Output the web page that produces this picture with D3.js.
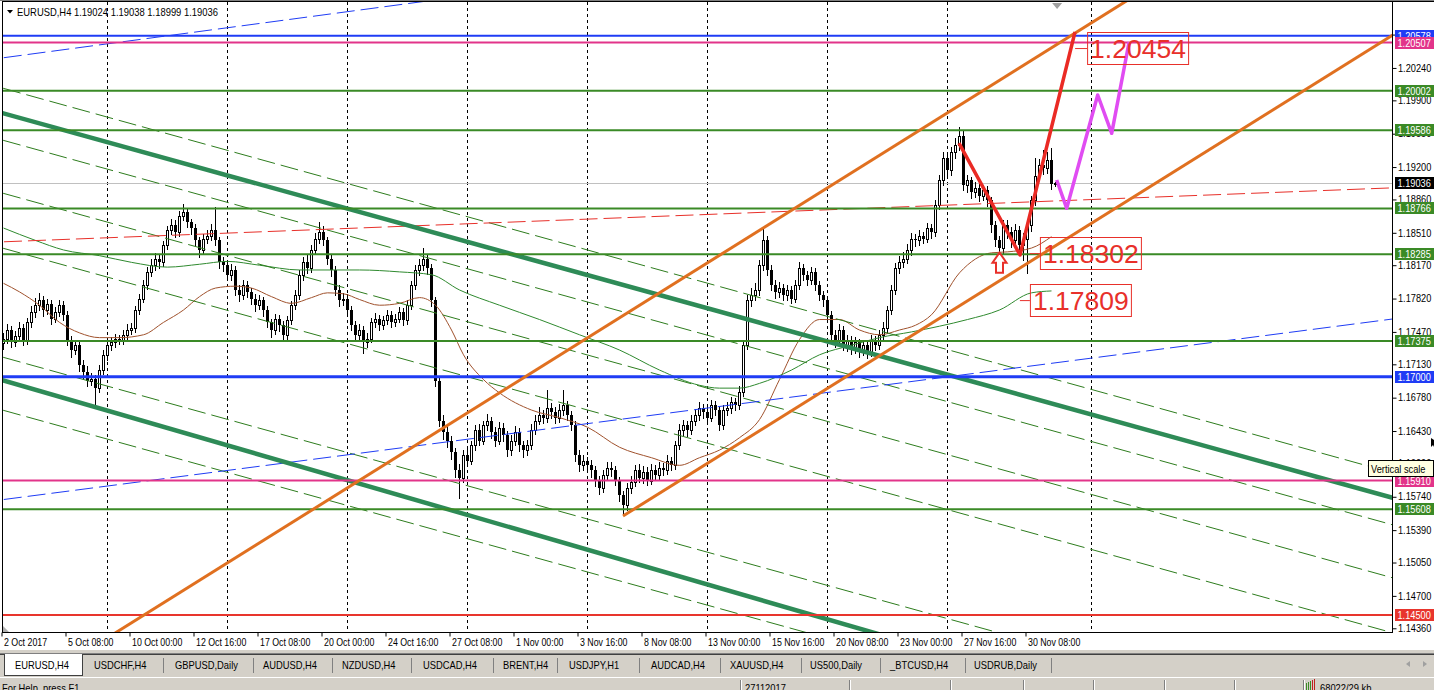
<!DOCTYPE html>
<html><head><meta charset="utf-8">
<script src="https://cdn.jsdelivr.net/npm/d3@7"></script>
<style>
html,body{margin:0;padding:0;background:#fff;overflow:hidden}
svg{display:block}
text{font-family:"Liberation Sans",Arial,sans-serif}
</style></head><body>
<svg id="c" width="1434" height="690"></svg>
<script>
// ---------------- DATA ----------------
const firstBar = 4;
const opens = [
1.1735,1.1740,1.1749,1.1736,1.1743,1.1751,1.1738,1.1757,1.1768,1.1775,
1.1780,1.1770,1.1776,1.1761,1.1768,1.1775,1.1765,1.1738,1.1728,1.1733,
1.1712,1.1705,1.1696,1.1698,1.1688,1.1707,1.1723,1.1733,1.1736,1.1740,
1.1738,1.1744,1.1749,1.1751,1.1770,1.1782,1.1796,1.1810,1.1817,1.1824,
1.1820,1.1838,1.1854,1.1859,1.1852,1.1869,1.1873,1.1862,1.1856,1.1843,
1.1833,1.1845,1.1848,1.1854,1.1843,1.1820,1.1817,1.1807,1.1812,1.1791,
1.1786,1.1796,1.1789,1.1782,1.1775,1.1780,1.1770,1.1757,1.1749,1.1761,
1.1754,1.1744,1.1759,1.1775,1.1786,1.1807,1.1820,1.1814,1.1833,1.1845,
1.1852,1.1843,1.1824,1.1812,1.1791,1.1780,1.1782,1.1770,1.1754,1.1744,
1.1749,1.1736,1.1740,1.1757,1.1761,1.1754,1.1759,1.1765,1.1757,1.1761,
1.1768,1.1759,1.1775,1.1796,1.1812,1.1817,1.1824,1.1814,1.1780,1.1696,
1.1654,1.1642,1.1633,1.1621,1.1602,1.1594,1.1618,1.1612,1.1628,1.1644,
1.1633,1.1649,1.1654,1.1642,1.1633,1.1646,1.1639,1.1623,1.1633,1.1642,
1.1628,1.1623,1.1628,1.1644,1.1654,1.1660,1.1657,1.1667,1.1663,1.1657,
1.1665,1.1670,1.1660,1.1649,1.1618,1.1607,1.1612,1.1607,1.1602,1.1591,
1.1583,1.1597,1.1604,1.1602,1.1591,1.1576,1.1565,1.1583,1.1589,1.1602,
1.1594,1.1600,1.1591,1.1602,1.1597,1.1604,1.1602,1.1612,1.1607,1.1628,
1.1644,1.1649,1.1644,1.1654,1.1660,1.1667,1.1663,1.1657,1.1670,1.1665,
1.1649,1.1665,1.1667,1.1673,1.1670,1.1684,1.1733,1.1780,1.1786,1.1791,
1.1817,1.1843,1.1812,1.1796,1.1789,1.1793,1.1786,1.1791,1.1782,1.1796,
1.1814,1.1807,1.1801,1.1810,1.1796,1.1786,1.1780,1.1765,1.1744,1.1738,
1.1749,1.1733,1.1738,1.1730,1.1736,1.1728,1.1733,1.1726,1.1738,1.1733,
1.1744,1.1751,1.1770,1.1791,1.1814,1.1820,1.1824,1.1833,1.1845,1.1843,
1.1848,1.1845,1.1856,1.1852,1.1880,1.1906,1.1929,1.1917,1.1936,1.1943,
1.1953,1.1901,1.1906,1.1894,1.1898,1.1890,1.1896,1.1885,1.1859,1.1843,
1.1835,1.1859,1.1852,1.1843,1.1854,1.1838,1.1845,1.1859,1.1885,1.1911,
1.1922,1.1919,1.1927,1.19024];
const highs = [
1.1746,1.1755,1.1753,1.1748,1.1757,1.1755,1.1762,1.1774,1.1783,1.1788,
1.1785,1.1782,1.1780,1.1773,1.1781,1.1779,1.1769,1.1743,1.1739,1.1737,
1.1718,1.1711,1.1704,1.1702,1.1712,1.1728,1.1737,1.1742,1.1745,1.1744,
1.1749,1.1755,1.1756,1.1774,1.1787,1.1801,1.1815,1.1823,1.1830,1.1829,
1.1842,1.1858,1.1866,1.1864,1.1874,1.1881,1.1877,1.1866,1.1860,1.1847,
1.1850,1.1854,1.1860,1.1878,1.1847,1.1826,1.1821,1.1818,1.1816,1.1796,
1.1801,1.1800,1.1793,1.1787,1.1786,1.1784,1.1774,1.1761,1.1766,1.1765,
1.1758,1.1764,1.1779,1.1791,1.1812,1.1826,1.1829,1.1838,1.1851,1.1862,
1.1858,1.1847,1.1828,1.1816,1.1796,1.1788,1.1787,1.1774,1.1758,1.1755,
1.1753,1.1746,1.1762,1.1767,1.1765,1.1764,1.1770,1.1769,1.1766,1.1773,
1.1772,1.1780,1.1800,1.1817,1.1824,1.1835,1.1829,1.1818,1.1784,1.1700,
1.1660,1.1648,1.1638,1.1625,1.1608,1.1623,1.1625,1.1633,1.1649,1.1650,
1.1654,1.1661,1.1658,1.1647,1.1652,1.1651,1.1643,1.1639,1.1648,1.1646,
1.1633,1.1634,1.1650,1.1660,1.1668,1.1665,1.1686,1.1672,1.1668,1.1671,
1.1686,1.1675,1.1664,1.1653,1.1623,1.1618,1.1616,1.1613,1.1606,1.1596,
1.1602,1.1610,1.1611,1.1606,1.1595,1.1580,1.1588,1.1596,1.1607,1.1608,
1.1606,1.1605,1.1608,1.1607,1.1610,1.1609,1.1618,1.1616,1.1633,1.1650,
1.1655,1.1654,1.1660,1.1666,1.1673,1.1671,1.1668,1.1676,1.1674,1.1669,
1.1670,1.1673,1.1679,1.1678,1.1690,1.1738,1.1786,1.1793,1.1798,1.1822,
1.1856,1.1848,1.1817,1.1801,1.1799,1.1797,1.1796,1.1795,1.1801,1.1820,
1.1818,1.1811,1.1815,1.1814,1.1800,1.1790,1.1784,1.1769,1.1749,1.1755,
1.1753,1.1744,1.1743,1.1742,1.1740,1.1739,1.1737,1.1744,1.1743,1.1749,
1.1757,1.1774,1.1796,1.1819,1.1827,1.1831,1.1839,1.1851,1.1850,1.1854,
1.1852,1.1861,1.1860,1.1885,1.1912,1.1936,1.1934,1.1941,1.1950,1.1962,
1.1958,1.1912,1.1910,1.1904,1.1902,1.1901,1.1900,1.1889,1.1863,1.1848,
1.1864,1.1864,1.1857,1.1860,1.1858,1.1851,1.1864,1.1890,1.1930,1.1928,
1.1938,1.1936,1.1940,1.19038];
const lows = [
1.1729,1.1735,1.1731,1.1732,1.1739,1.1733,1.1734,1.1752,1.1763,1.1770,
1.1764,1.1766,1.1755,1.1757,1.1764,1.1760,1.1733,1.1721,1.1724,1.1706,
1.1699,1.1690,1.1691,1.1670,1.1684,1.1703,1.1718,1.1728,1.1731,1.1734,
1.1734,1.1740,1.1745,1.1747,1.1766,1.1778,1.1792,1.1806,1.1812,1.1814,
1.1816,1.1834,1.1850,1.1847,1.1848,1.1864,1.1857,1.1850,1.1838,1.1826,
1.1829,1.1840,1.1843,1.1838,1.1814,1.1811,1.1801,1.1802,1.1786,1.1779,
1.1782,1.1784,1.1776,1.1769,1.1771,1.1764,1.1752,1.1742,1.1745,1.1748,
1.1738,1.1740,1.1755,1.1771,1.1782,1.1802,1.1809,1.1810,1.1829,1.1840,
1.1838,1.1818,1.1806,1.1786,1.1774,1.1775,1.1765,1.1749,1.1738,1.1739,
1.1725,1.1731,1.1736,1.1752,1.1749,1.1750,1.1755,1.1752,1.1753,1.1757,
1.1754,1.1755,1.1771,1.1792,1.1807,1.1812,1.1808,1.1774,1.1690,1.1648,
1.1635,1.1626,1.1614,1.1595,1.1573,1.1590,1.1606,1.1608,1.1623,1.1628,
1.1629,1.1644,1.1636,1.1627,1.1629,1.1633,1.1617,1.1618,1.1628,1.1622,
1.1616,1.1618,1.1624,1.1640,1.1650,1.1651,1.1652,1.1657,1.1651,1.1652,
1.1660,1.1655,1.1644,1.1612,1.1601,1.1602,1.1600,1.1595,1.1585,1.1577,
1.1579,1.1592,1.1596,1.1586,1.1570,1.1555,1.1560,1.1578,1.1585,1.1589,
1.1588,1.1586,1.1587,1.1592,1.1593,1.1597,1.1598,1.1602,1.1603,1.1624,
1.1639,1.1638,1.1640,1.1649,1.1655,1.1657,1.1652,1.1653,1.1660,1.1644,
1.1645,1.1660,1.1662,1.1665,1.1666,1.1680,1.1729,1.1774,1.1781,1.1786,
1.1812,1.1807,1.1791,1.1783,1.1784,1.1780,1.1781,1.1777,1.1778,1.1792,
1.1802,1.1796,1.1797,1.1791,1.1780,1.1774,1.1759,1.1738,1.1731,1.1733,
1.1728,1.1727,1.1724,1.1725,1.1721,1.1723,1.1720,1.1722,1.1728,1.1729,
1.1739,1.1747,1.1766,1.1787,1.1809,1.1815,1.1819,1.1828,1.1837,1.1838,
1.1840,1.1841,1.1846,1.1848,1.1876,1.1901,1.1911,1.1912,1.1930,1.1938,
1.1896,1.1894,1.1888,1.1889,1.1884,1.1885,1.1879,1.1852,1.1837,1.1826,
1.1830,1.1846,1.1836,1.1838,1.1830,1.1822,1.1809,1.1853,1.1880,1.1906,
1.1913,1.1914,1.1897,1.18999];
const closes = [
1.1740,1.1749,1.1736,1.1743,1.1751,1.1738,1.1757,1.1768,1.1775,1.1780,
1.1770,1.1776,1.1761,1.1768,1.1775,1.1765,1.1738,1.1728,1.1733,1.1712,
1.1705,1.1696,1.1698,1.1688,1.1707,1.1723,1.1733,1.1736,1.1740,1.1738,
1.1744,1.1749,1.1751,1.1770,1.1782,1.1796,1.1810,1.1817,1.1824,1.1820,
1.1838,1.1854,1.1859,1.1852,1.1869,1.1873,1.1862,1.1856,1.1843,1.1833,
1.1845,1.1848,1.1854,1.1843,1.1820,1.1817,1.1807,1.1812,1.1791,1.1786,
1.1796,1.1789,1.1782,1.1775,1.1780,1.1770,1.1757,1.1749,1.1761,1.1754,
1.1744,1.1759,1.1775,1.1786,1.1807,1.1820,1.1814,1.1833,1.1845,1.1852,
1.1843,1.1824,1.1812,1.1791,1.1780,1.1782,1.1770,1.1754,1.1744,1.1749,
1.1736,1.1740,1.1757,1.1761,1.1754,1.1759,1.1765,1.1757,1.1761,1.1768,
1.1759,1.1775,1.1796,1.1812,1.1817,1.1824,1.1814,1.1780,1.1696,1.1654,
1.1642,1.1633,1.1621,1.1602,1.1594,1.1618,1.1612,1.1628,1.1644,1.1633,
1.1649,1.1654,1.1642,1.1633,1.1646,1.1639,1.1623,1.1633,1.1642,1.1628,
1.1623,1.1628,1.1644,1.1654,1.1660,1.1657,1.1667,1.1663,1.1657,1.1665,
1.1670,1.1660,1.1649,1.1618,1.1607,1.1612,1.1607,1.1602,1.1591,1.1583,
1.1597,1.1604,1.1602,1.1591,1.1576,1.1565,1.1583,1.1589,1.1602,1.1594,
1.1600,1.1591,1.1602,1.1597,1.1604,1.1602,1.1612,1.1607,1.1628,1.1644,
1.1649,1.1644,1.1654,1.1660,1.1667,1.1663,1.1657,1.1670,1.1665,1.1649,
1.1665,1.1667,1.1673,1.1670,1.1684,1.1733,1.1780,1.1786,1.1791,1.1817,
1.1843,1.1812,1.1796,1.1789,1.1793,1.1786,1.1791,1.1782,1.1796,1.1814,
1.1807,1.1801,1.1810,1.1796,1.1786,1.1780,1.1765,1.1744,1.1738,1.1749,
1.1733,1.1738,1.1730,1.1736,1.1728,1.1733,1.1726,1.1738,1.1733,1.1744,
1.1751,1.1770,1.1791,1.1814,1.1820,1.1824,1.1833,1.1845,1.1843,1.1848,
1.1845,1.1856,1.1852,1.1880,1.1906,1.1929,1.1917,1.1936,1.1943,1.1953,
1.1901,1.1906,1.1894,1.1898,1.1890,1.1896,1.1885,1.1859,1.1843,1.1835,
1.1859,1.1852,1.1843,1.1854,1.1838,1.1845,1.1859,1.1885,1.1911,1.1922,
1.1919,1.1927,1.19024,1.19036];

// moving averages
const brownIdx = [4,8,13,18,23,28,33,39,44,49,53,57,62,66,71,76,81,85,89,93,98,103,108,112,116,119,124,128,136,143,150,158,166,173,178,183,188,193,198,203,208,213,218,223,228,232,236,243,251,255,261,266];
const brownVal = [1.1798,1.1789,1.1775,1.1757,1.1746,1.1741,1.1741,1.1744,1.1757,1.1770,1.1784,1.1793,1.1795,1.1793,1.1784,1.1777,1.1783,1.1788,1.1787,1.1781,1.1775,1.1777,1.1783,1.1775,1.1749,1.1723,1.1697,1.1683,1.1665,1.1657,1.1647,1.1626,1.1615,1.1607,1.1615,1.1623,1.1636,1.1655,1.1697,1.1739,1.1760,1.1760,1.1749,1.1744,1.1749,1.1754,1.1765,1.1809,1.1830,1.1831,1.1835,1.1847];
const greenIdx = [4,12,19,28,36,45,53,60,68,78,86,93,103,111,118,128,138,148,158,168,178,183,188,193,201,208,216,223,231,238,245,253,261,266];
const greenVal = [1.1856,1.1843,1.1833,1.1827,1.1820,1.1815,1.1818,1.1821,1.1817,1.1812,1.1812,1.1812,1.1810,1.1807,1.1791,1.1775,1.1760,1.1744,1.1728,1.1707,1.1691,1.1688,1.1688,1.1693,1.1707,1.1723,1.1733,1.1741,1.1747,1.1753,1.1760,1.1770,1.1788,1.1790];

// horizontal levels
const levelVals   = [1.20578,1.20507,1.20002,1.19586,1.18766,1.18285,1.17375,1.17000,1.15910,1.15608,1.14500];
const levelColors = ["#1f3cf5","#e2348a","#3a8a26","#3a8a26","#3a8a26","#3a8a26","#3a8a26","#1f3cf5","#e2348a","#3a8a26","#e8352d"];
const levelWidths = [2,2,2,2,2,2,2,3,2,2,2];
const bidPrice = 1.19036;

// trend lines: [barIndex, price] endpoints
const blueUpper  = [[-1.875,1.20314],[358.125,1.22338]];
const blueLower  = [[-1.875,1.15679],[358.125,1.17643]];
const redDashed  = [[-1.875,1.18406],[358.125,1.18993]];
const orangeA    = [[29.125,1.14237],[289.125,1.21058]];
const orangeB    = [[158.875,1.15538],[358.125,1.20765]];
const greenThickA= [[-1.875,1.19831],[358.125,1.15649]];
const greenThickB= [[-1.875,1.17032],[358.125,1.12652]];
const greenDashStart = [1.20094,1.19548,1.18992,1.18415,1.17271,1.16715];
const greenDashEnd   = [1.15912,1.15366,1.14810,1.14233,1.13089,1.12533];
const dashIdx = [-1.875,358.125];
const redZig  = [[242.875,1.19452],[258.125,1.18277],[271.875,1.20617]];
const pinkZig = [[267.3,1.19064],[269.8,1.18767],[277.55,1.19956],[281.05,1.19554],[285.4,1.20512]];

// annotations
const annoText  = ["1.20454","1.18302","1.17809"];
const annoPrice = [1.20454,1.18302,1.17809];
const annoIdx   = [274.9,263.1,260.6];
const annoFrom  = [271.9,260.6,258.1];
const arrowIdx = 253, arrowPrice = 1.18302;

// axis
const priceTicks = [1.14360,1.14700,1.15050,1.15390,1.15740,1.16090,1.16430,1.16780,1.17130,1.17470,1.17820,1.18170,1.18510,1.18860,1.19200,1.19550,1.19900,1.20240,1.20590];
const timeIdx = [4,20,36,52,68,84,100,116,132,148,164,180,196,212,228,244,260];
const timeLabels = ["2 Oct 2017","5 Oct 08:00","10 Oct 00:00","12 Oct 16:00","17 Oct 08:00","20 Oct 00:00","24 Oct 16:00","27 Oct 08:00","1 Nov 00:00","3 Nov 16:00","8 Nov 08:00","13 Nov 00:00","15 Nov 16:00","20 Nov 08:00","23 Nov 00:00","27 Nov 16:00","30 Nov 08:00"];
const separatorIdx = [30,60,90,120,150,180,210,240,276];
const tabs = ["EURUSD,H4","USDCHF,H4","GBPUSD,Daily","AUDUSD,H4","NZDUSD,H4","USDCAD,H4","BRENT,H4","USDJPY,H1","AUDCAD,H4","XAUUSD,H4","US500,Daily","_BTCUSD,H4","USDRUB,Daily"];

// ---------------- DRAW ----------------
const svg = d3.select("#c");
const L=2,R=1392,T=2,B=632;
const x = d3.scaleLinear().domain([0,100]).range([-12.5,387.5]);     // bar centre
const xEdge = d3.scaleLinear().domain([0,100]).range([-14.5,385.5]); // bar left edge
const y = d3.scaleLinear().domain([1.14321,1.20932]).range([632,2]);
function squeeze(sel,f){ sel.each(function(){ const w=this.getComputedTextLength(); this.setAttribute("textLength",(w*f).toFixed(1)); this.setAttribute("lengthAdjust","spacingAndGlyphs"); }); return sel; }

svg.append("rect").attr("width",1434).attr("height",690).attr("fill","#fff");
svg.append("defs").append("clipPath").attr("id","plot").append("rect")
  .attr("x",L+1).attr("y",T).attr("width",R-L-1).attr("height",B-T);
const plot = svg.append("g").attr("clip-path","url(#plot)");

// period separators
plot.append("g").selectAll("line").data(separatorIdx).join("line")
  .attr("x1",d=>x(d)).attr("x2",d=>x(d)).attr("y1",T).attr("y2",B)
  .attr("stroke","#000").attr("stroke-width",1).attr("stroke-dasharray","3,3");

// bid line
plot.append("line").attr("x1",L).attr("x2",R).attr("y1",Math.round(y(bidPrice))+0.5).attr("y2",Math.round(y(bidPrice))+0.5)
  .attr("stroke","#c0c0c0").attr("stroke-width",1);

// candles
const bars = opens.map((o,k)=>({i:firstBar+k,o,h:highs[k],l:lows[k],c:closes[k]}));
const cg = plot.append("g").attr("shape-rendering","crispEdges");
cg.selectAll("line").data(bars).join("line")
  .attr("x1",d=>x(d.i)).attr("x2",d=>x(d.i))
  .attr("y1",d=>Math.round(y(d.h))).attr("y2",d=>Math.round(y(d.l))+1)
  .attr("stroke","#000");
cg.selectAll("rect").data(bars).join("rect")
  .each(function(d){
    const top=Math.round(y(Math.max(d.o,d.c))), bot=Math.round(y(Math.min(d.o,d.c)));
    const s=d3.select(this);
    if(d.c>=d.o){
      s.attr("x",x(d.i)-1).attr("width",2).attr("y",top+0.5).attr("height",Math.max(bot-top,0))
       .attr("fill","#fff").attr("stroke","#000").attr("stroke-width",1);
    } else {
      s.attr("x",x(d.i)-1.5).attr("width",3).attr("y",top).attr("height",Math.max(bot-top,1)).attr("fill","#000");
    }
  });

// moving averages
const maLine = d3.line().x(d=>x(d[0])).y(d=>y(d[1])).curve(d3.curveMonotoneX);
plot.append("path").attr("d",maLine(brownIdx.map((d,k)=>[d,brownVal[k]]))).attr("fill","none").attr("stroke","#a0522d").attr("stroke-width",1);
plot.append("path").attr("d",maLine(greenIdx.map((d,k)=>[d,greenVal[k]]))).attr("fill","none").attr("stroke","#2f8a2f").attr("stroke-width",1);

const seg = d3.line().x(d=>x(d[0])).y(d=>y(d[1]));
function draw(pts,color,w,dash){
  const p=plot.append("path").attr("d",seg(pts)).attr("fill","none").attr("stroke",color).attr("stroke-width",w).attr("stroke-linejoin","round");
  if(dash) p.attr("stroke-dasharray",dash);
  return p;
}
greenDashStart.forEach((v,k)=>draw([[dashIdx[0],v],[dashIdx[1],greenDashEnd[k]]],"#2e7d1e",1,"18,6"));
draw(blueUpper,"#1f3cf5",1,"18,6");
draw(blueLower,"#1f3cf5",1,"18,6");
draw(redDashed,"#e8302a",1,"18,6");
draw(greenThickA,"#2e8b57",4.5);
draw(greenThickB,"#2e8b57",4.5);

// horizontal levels
plot.append("g").selectAll("line").data(levelVals).join("line")
  .attr("x1",L).attr("x2",R).attr("y1",d=>y(d)).attr("y2",d=>y(d))
  .attr("stroke",(d,k)=>levelColors[k]).attr("stroke-width",(d,k)=>levelWidths[k]);

draw(orangeA,"#e07020",3);
draw(orangeB,"#e07020",3);
draw(redZig,"#ea2a24",3.5);
draw(pinkZig,"#e04cf2",3.5);

// annotation boxes
annoText.forEach((t,k)=>{
  const cy=y(annoPrice[k]);
  const bx=x(annoIdx[k]);
  plot.append("line").attr("x1",x(annoFrom[k])).attr("x2",bx).attr("y1",cy+1).attr("y2",cy+1).attr("stroke","#e8302a").attr("stroke-width",1);
  const tx=plot.append("text").attr("x",bx+3).attr("y",cy+10.5).attr("fill","#e8302a")
    .attr("font-size",26.5).text(t);
  const w=tx.node().getComputedTextLength();
  plot.append("rect").attr("x",bx+0.5).attr("y",Math.round(cy)-15.5).attr("width",Math.round(w)+5).attr("height",32)
    .attr("fill","none").attr("stroke","#e8302a").attr("stroke-width",1);
});
// arrow
{
  const ax=x(arrowIdx), ay=y(arrowPrice);
  const pts=[[0,0],[7,10],[3.5,10],[3.5,20],[-3.5,20],[-3.5,10],[-7,10]].map(p=>[ax+p[0],ay+p[1]]);
  plot.append("path").attr("d","M"+pts.map(p=>p.join(",")).join("L")+"Z")
    .attr("fill","#fff").attr("stroke","#e8302a").attr("stroke-width",2);
}
// chart shift marker
{
  const sx=x(267.4);
  svg.append("path").attr("d",`M${sx-5},3L${sx+5},3L${sx},9Z`).attr("fill","#a0a0a0");
}

// frame
svg.append("line").attr("x1",0).attr("x2",1434).attr("y1",0.5).attr("y2",0.5).attr("stroke","#808080");
svg.append("line").attr("x1",2).attr("x2",1434).attr("y1",1.5).attr("y2",1.5).attr("stroke","#000");
svg.append("line").attr("x1",2.5).attr("x2",2.5).attr("y1",1).attr("y2",B).attr("stroke","#000");
svg.append("line").attr("x1",R+0.5).attr("x2",R+0.5).attr("y1",1).attr("y2",B+1).attr("stroke","#000");
svg.append("line").attr("x1",2).attr("x2",R+1).attr("y1",B+0.5).attr("y2",B+0.5).attr("stroke","#000");
svg.append("path").attr("d",`M3,${B-6}L3,${B}L9,${B}Z`).attr("fill","#b0b0b0");

// right axis
const ay = svg.append("g").attr("transform",`translate(${R+0.5},0)`)
  .call(d3.axisRight(y).tickValues(priceTicks).tickFormat(d3.format(".5f")).tickSize(4).tickPadding(1.5).tickSizeOuter(0));
ay.select(".domain").remove();
ay.selectAll("text").attr("font-size",10).attr("fill","#000").style("font-family","'Liberation Sans',Arial,sans-serif");
ay.selectAll("line").attr("stroke","#000");
squeeze(ay.selectAll("text"),0.92);

// level labels
const lab = svg.append("g");
function priceBox(v,color){
  const cy=Math.round(y(v));
  lab.append("rect").attr("x",1395).attr("y",cy-6).attr("width",39).attr("height",12).attr("fill",color);
  squeeze(lab.append("text").attr("x",1397.5).attr("y",cy+4).attr("fill","#fff").attr("font-size",10).text(d3.format(".5f")(v)),0.92);
}
levelVals.forEach((v,k)=>priceBox(v,levelColors[k]));
priceBox(bidPrice,"#000");

// bottom axis
const axb = svg.append("g").attr("transform",`translate(0,${B+0.5})`)
  .call(d3.axisBottom(xEdge).tickValues(timeIdx).tickFormat((d,k)=>timeLabels[k]).tickSize(4).tickSizeOuter(0));
axb.select(".domain").remove();
axb.selectAll("line").attr("stroke","#000");
axb.selectAll("text").attr("text-anchor","start").attr("dx",2).attr("dy","0.55em").attr("font-size",11).attr("fill","#000")
  .style("font-family","'Liberation Sans',Arial,sans-serif");
squeeze(axb.selectAll("text"),0.8);

// title
svg.append("path").attr("d","M7,10L13,10L10,13.5Z").attr("fill","#000");
svg.append("text").attr("x",17).attr("y",15.5).attr("font-size",11).attr("fill","#000")
  .attr("textLength",201).attr("lengthAdjust","spacingAndGlyphs")
  .text("EURUSD,H4  1.19024 1.19038 1.18999 1.19036");

// tooltip & cursor
svg.append("rect").attr("x",1368.5).attr("y",460.5).attr("width",65).attr("height",16).attr("fill","#ffffe1").attr("stroke","#000");
squeeze(svg.append("text").attr("x",1371).attr("y",473).attr("font-size",10.5).attr("fill","#000").text("Vertical scale"),0.88);
svg.append("path").attr("d","M1431,438L1431,447L1433,445L1434,447L1434,440Z").attr("fill","#000");

// tab bar & status bar
const ui = svg.append("g");
ui.append("rect").attr("x",0).attr("y",650).attr("width",1434).attr("height",40).attr("fill","#d4d0c8");
ui.append("line").attr("x1",0).attr("x2",1434).attr("y1",653.5).attr("y2",653.5).attr("stroke","#808080");
ui.append("line").attr("x1",0).attr("x2",1434).attr("y1",654.5).attr("y2",654.5).attr("stroke","#404040");
ui.append("rect").attr("x",4.5).attr("y",654.5).attr("width",78).attr("height",21).attr("fill","#fff").attr("stroke","#404040");
ui.append("line").attr("x1",5).attr("x2",82).attr("y1",654.5).attr("y2",654.5).attr("stroke","#fff");
const tabX=[15,94,175,263,342,423,503,569,651,730,810,890,974];
const tabSep=[163,253,332,411,493,557,639,720,801,880,965,1051];
tabs.forEach((t,k)=>squeeze(ui.append("text").attr("x",tabX[k]).attr("y",669).attr("font-size",11).attr("fill","#000").text(t),0.85));
tabSep.forEach(s=>ui.append("line").attr("x1",s+0.5).attr("x2",s+0.5).attr("y1",658).attr("y2",673).attr("stroke","#808080"));
ui.append("path").attr("d","M1410,661L1406,664L1410,667Z").attr("fill","#a0a0a0");
ui.append("path").attr("d","M1423,661L1427,664L1423,667Z").attr("fill","#a0a0a0");
ui.append("line").attr("x1",0).attr("x2",1434).attr("y1",677.5).attr("y2",677.5).attr("stroke","#fff");
const statSep=[740,849,950,1023,1093,1164,1234,1303];
statSep.forEach(s=>{
  ui.append("line").attr("x1",s+0.5).attr("x2",s+0.5).attr("y1",680).attr("y2",690).attr("stroke","#808080");
  ui.append("line").attr("x1",s+1.5).attr("x2",s+1.5).attr("y1",680).attr("y2",690).attr("stroke","#fff");
});
squeeze(ui.append("text").attr("x",2).attr("y",692).attr("font-size",11).attr("fill","#000").text("For Help, press F1"),0.85);
squeeze(ui.append("text").attr("x",745).attr("y",692).attr("font-size",11).attr("fill","#000").text("27112017"),0.85);
squeeze(ui.append("text").attr("x",1320).attr("y",692).attr("font-size",11).attr("fill","#000").text("68022/29 kb"),0.85);
[0,2,4,6,8].forEach((d,k)=>ui.append("rect").attr("x",1306+d).attr("y",683-k).attr("width",1).attr("height",7+k).attr("fill",k<3?"#3a8a26":"#c02020"));
</script>
</body></html>
